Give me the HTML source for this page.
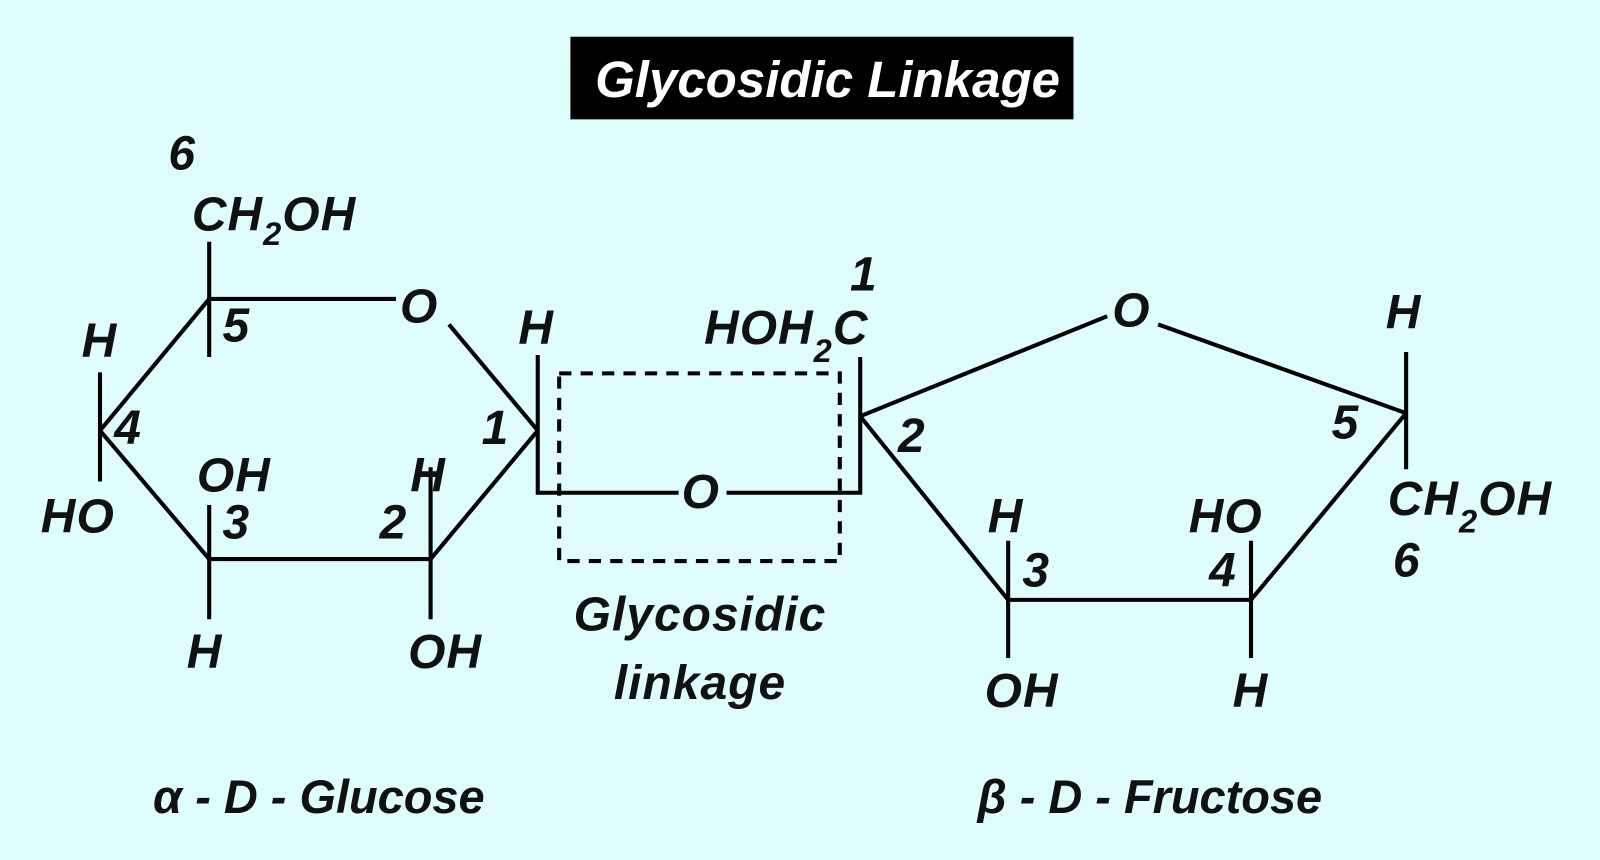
<!DOCTYPE html>
<html><head><meta charset="utf-8"><style>
html,body{margin:0;padding:0;background:#e0fdfd;}
svg{display:block;}
text{font-family:"Liberation Sans",sans-serif;font-weight:bold;font-style:italic;fill:#111;font-size:47px;letter-spacing:1px;}
.s{font-size:32px;}
.b{letter-spacing:0;font-size:46px;}
</style></head><body>
<svg width="1600" height="860" viewBox="0 0 1568 843" preserveAspectRatio="none">
<rect width="1568" height="843" fill="#e0fdfd"/>
<rect x="559" y="36" width="493" height="81" fill="#000"/>
<text x="811" y="95" text-anchor="middle" style="fill:#fff;font-size:50px;letter-spacing:0">Glycosidic Linkage</text>
<g stroke="#000" stroke-width="4" fill="none">
<line x1="205" y1="293" x2="388" y2="293"/>
<line x1="440" y1="318" x2="527" y2="422"/>
<line x1="527" y1="422" x2="422" y2="548"/>
<line x1="422" y1="548" x2="205" y2="548"/>
<line x1="205" y1="548" x2="98" y2="422"/>
<line x1="98" y1="422" x2="205" y2="293"/>
<line x1="205" y1="237" x2="205" y2="350"/>
<line x1="98" y1="365" x2="98" y2="472"/>
<line x1="205" y1="495" x2="205" y2="607"/>
<line x1="422" y1="458" x2="422" y2="607"/>
<polyline points="527,348 527,483 665,483"/>
<polyline points="712,483 843,483 843,350"/>
<line x1="843" y1="408" x2="1085" y2="310"/>
<line x1="1135" y1="318" x2="1378" y2="405"/>
<line x1="1378" y1="405" x2="1226" y2="588"/>
<line x1="1226" y1="588" x2="988" y2="588"/>
<line x1="988" y1="588" x2="843" y2="408"/>
<line x1="988" y1="530" x2="988" y2="645"/>
<line x1="1226" y1="530" x2="1226" y2="645"/>
<line x1="1378" y1="345" x2="1378" y2="460"/>
<rect x="548" y="366" width="275" height="184" stroke-dasharray="12,9"/>
</g>
<text x="165" y="166">6</text>
<text x="188" y="226">CH<tspan class="s" dy="14">2</tspan><tspan dy="-14">OH</tspan></text>
<text x="218" y="335">5</text>
<text x="392" y="316">O</text>
<text x="80" y="350">H</text>
<text x="112" y="435">4</text>
<text x="40" y="522">HO</text>
<text x="193" y="482">OH</text>
<text x="218" y="528">3</text>
<text x="183" y="655">H</text>
<text x="402" y="482">H</text>
<text x="372" y="528">2</text>
<text x="400" y="655">OH</text>
<text x="472" y="435">1</text>
<text x="508" y="337">H</text>
<text x="668" y="498">O</text>
<text x="690" y="337">HOH<tspan class="s" dy="18">2</tspan><tspan dy="-18">C</tspan></text>
<text x="833" y="285">1</text>
<text x="686" y="618" text-anchor="middle">Glycosidic</text>
<text x="686" y="685" text-anchor="middle">linkage</text>
<text x="1090" y="320">O</text>
<text x="880" y="443">2</text>
<text x="968" y="522">H</text>
<text x="1002" y="575">3</text>
<text x="965" y="693">OH</text>
<text x="1165" y="522">HO</text>
<text x="1185" y="575">4</text>
<text x="1208" y="693">H</text>
<text x="1358" y="322">H</text>
<text x="1305" y="430">5</text>
<text x="1360" y="505">CH<tspan class="s" dy="17">2</tspan><tspan dy="-17">OH</tspan></text>
<text x="1365" y="565">6</text>
<text class="b" x="150" y="797">α - D - Glucose</text>
<text class="b" x="958" y="797">β - D - Fructose</text>
</svg>
</body></html>
